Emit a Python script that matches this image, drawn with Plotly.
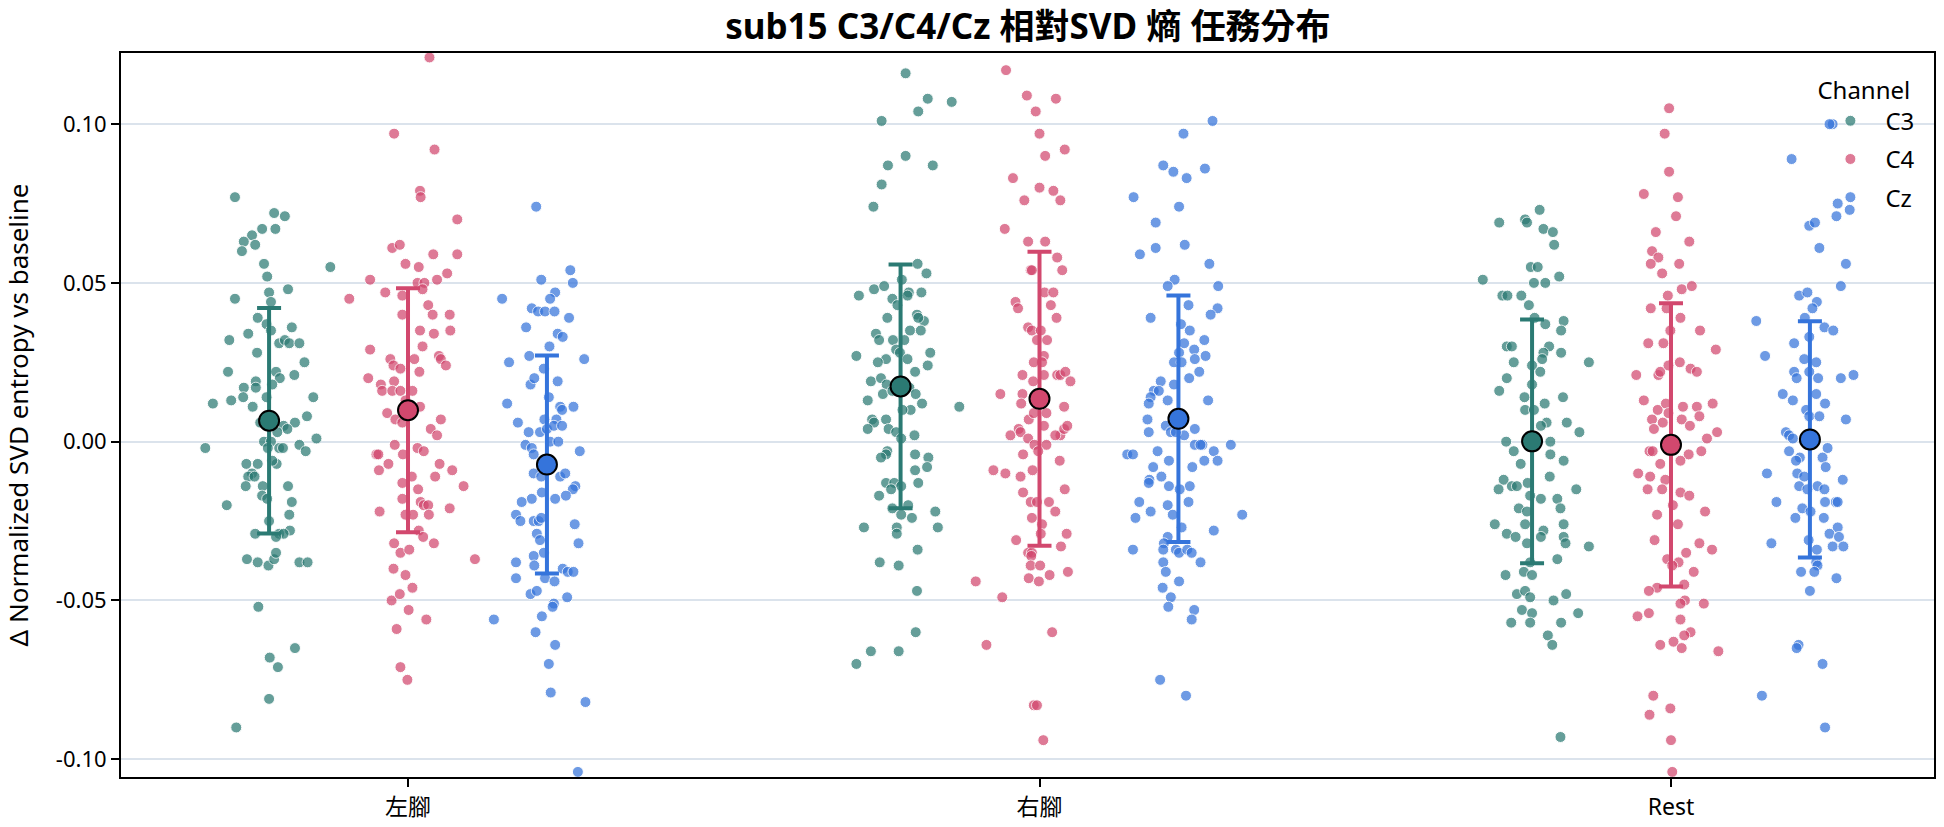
import plotly.graph_objects as go

categories = ["左腳", "右腳", "Rest"]
channels = ["C3", "C4", "Cz"]

# ---- per-trial values (Δ normalized SVD entropy) and horizontal jitter ----
c3_left = [0.077,0.072,0.071,0.067,0.067,0.065,0.063,0.062,0.060,0.056,0.055,0.052,0.045,0.048,0.047,0.044,0.039,0.037,0.035,0.036,0.032,0.034,0.031,0.032,0.031,0.031,0.028,0.025,0.022,0.021,0.022,0.020,0.019,0.017,0.017,0.018,0.012,0.013,0.014,0.011,0.014,0.014,0.006,0.006,0.008,0.005,0.004,0.003,-0.002,0.000,0.000,-0.001,-0.003,0.001,-0.002,-0.002,-0.002,-0.007,-0.006,-0.007,-0.007,-0.010,-0.011,-0.011,-0.014,-0.014,-0.014,-0.020,-0.017,-0.018,-0.019,-0.023,-0.025,-0.029,-0.029,-0.028,-0.029,-0.030,-0.037,-0.038,-0.039,-0.037,-0.035,-0.038,-0.038,-0.052,-0.065,-0.068,-0.071,-0.081,-0.090]
jit_c3_left = [-0.054,0.008,0.025,-0.011,0.010,-0.027,-0.040,-0.022,-0.043,-0.008,0.097,-0.003,-0.054,0.030,0.000,0.003,-0.018,-0.004,0.003,0.036,-0.063,-0.033,0.016,0.025,0.032,0.048,-0.019,0.056,-0.065,0.040,0.011,0.017,-0.021,-0.040,-0.021,0.005,-0.089,-0.060,-0.041,-0.026,-0.004,0.070,-0.014,0.041,0.060,0.023,0.029,0.013,-0.101,-0.008,0.003,0.048,0.058,0.075,-0.002,0.016,0.022,0.012,0.005,-0.036,-0.018,-0.027,-0.033,-0.023,-0.037,-0.010,0.030,-0.067,-0.011,-0.003,0.036,0.032,0.000,-0.022,0.016,0.033,0.023,0.011,-0.035,-0.018,-0.001,0.008,0.011,0.048,0.061,-0.017,0.041,0.001,0.014,0.000,-0.052]

c4_left = [0.121,0.097,0.092,0.079,0.077,0.070,0.061,0.062,0.056,0.055,0.059,0.059,0.051,0.053,0.051,0.050,0.050,0.048,0.045,0.047,0.046,0.043,0.040,0.040,0.040,0.035,0.035,0.034,0.030,0.029,0.027,0.026,0.024,0.026,0.024,0.023,0.026,0.022,0.020,0.018,0.016,0.019,0.016,0.016,0.016,0.013,0.011,0.009,0.007,0.006,0.007,0.004,0.002,-0.001,-0.002,-0.003,-0.004,-0.004,-0.007,-0.004,-0.009,-0.007,-0.011,-0.009,-0.014,-0.011,-0.013,-0.015,-0.018,-0.022,-0.019,-0.020,-0.020,-0.023,-0.021,-0.023,-0.023,-0.028,-0.030,-0.032,-0.032,-0.035,-0.034,-0.037,-0.040,-0.042,-0.046,-0.050,-0.048,-0.053,-0.056,-0.059,-0.071,-0.075]
jit_c4_left = [0.034,-0.022,0.042,0.019,0.020,0.078,-0.025,-0.013,-0.004,0.017,0.040,0.078,-0.060,0.062,0.046,0.015,0.026,0.023,-0.093,-0.036,-0.009,0.032,0.039,-0.009,0.066,0.067,0.019,0.041,0.023,-0.060,0.049,0.052,0.060,-0.028,-0.023,-0.012,0.010,0.018,-0.063,-0.043,-0.041,-0.022,-0.025,-0.012,0.007,-0.004,0.019,-0.033,-0.020,-0.009,0.052,0.036,0.046,-0.021,0.015,0.025,-0.050,-0.047,-0.031,-0.008,-0.046,0.050,0.043,0.070,0.088,0.006,-0.009,0.016,-0.009,-0.045,0.020,0.025,0.032,0.033,0.066,-0.004,0.008,0.017,0.024,0.041,-0.022,-0.012,0.002,0.106,-0.023,-0.004,0.007,-0.026,-0.013,0.001,0.029,-0.018,-0.012,-0.001]

cz_left = [0.074,0.054,0.050,0.051,0.045,0.047,0.045,0.042,0.041,0.041,0.041,0.039,0.036,0.034,0.033,0.030,0.025,0.027,0.026,0.023,0.019,0.018,0.020,0.012,0.014,0.011,0.010,0.011,0.006,0.007,0.007,0.003,0.003,0.004,0.005,0.005,-0.001,-0.002,0.000,0.000,-0.004,-0.003,-0.010,-0.011,-0.011,-0.010,-0.014,-0.015,-0.017,-0.018,-0.019,-0.018,-0.016,-0.023,-0.025,-0.025,-0.025,-0.024,-0.026,-0.029,-0.031,-0.032,-0.035,-0.036,-0.038,-0.040,-0.041,-0.041,-0.043,-0.044,-0.043,-0.039,-0.048,-0.047,-0.049,-0.051,-0.052,-0.056,-0.055,-0.060,-0.064,-0.070,-0.079,-0.082,-0.104]
jit_cz_left = [-0.017,0.037,0.041,-0.009,-0.071,0.013,0.005,-0.024,-0.014,-0.003,0.012,0.035,-0.033,0.017,0.025,0.004,-0.060,-0.028,0.059,-0.005,0.017,-0.026,-0.020,-0.063,0.003,0.021,0.024,0.042,-0.046,0.015,-0.004,-0.029,-0.011,0.000,0.011,0.024,-0.034,-0.024,0.005,0.018,-0.021,0.052,-0.021,-0.009,0.021,0.029,0.045,0.041,0.030,-0.024,-0.040,0.013,-0.008,-0.049,-0.042,-0.021,-0.013,-0.009,0.044,-0.016,-0.011,0.050,-0.005,-0.021,-0.049,0.025,0.033,0.042,-0.003,0.012,-0.049,-0.020,-0.026,-0.016,0.032,0.011,0.009,-0.084,-0.008,-0.018,0.013,0.003,0.006,0.061,0.049]

c3_right = [0.116,0.108,0.107,0.104,0.101,0.090,0.087,0.087,0.081,0.074,0.056,0.053,0.051,0.046,0.048,0.049,0.047,0.047,0.045,0.043,0.046,0.040,0.039,0.038,0.039,0.034,0.032,0.035,0.035,0.032,0.032,0.029,0.028,0.027,0.028,0.026,0.025,0.026,0.024,0.022,0.019,0.020,0.018,0.015,0.016,0.017,0.015,0.013,0.012,0.010,0.010,0.007,0.006,0.007,0.004,0.004,0.003,0.011,0.001,0.002,-0.003,-0.004,-0.005,-0.004,-0.005,-0.008,-0.009,-0.013,-0.013,-0.013,-0.014,-0.017,-0.015,-0.020,-0.021,-0.022,-0.023,-0.024,-0.027,-0.027,-0.027,-0.029,-0.034,-0.038,-0.039,-0.047,-0.060,-0.066,-0.066,-0.070]
jit_c3_right = [0.008,0.043,0.081,0.028,-0.030,0.008,-0.020,0.051,-0.030,-0.043,0.027,0.041,0.002,-0.066,-0.042,-0.026,0.013,0.033,-0.013,-0.005,0.011,0.026,-0.021,0.037,0.028,-0.039,-0.034,0.015,0.032,-0.012,0.006,-0.007,-0.001,-0.070,0.047,-0.023,-0.036,0.011,0.043,0.023,-0.047,-0.031,-0.022,-0.028,-0.013,0.014,0.024,-0.052,0.034,0.016,0.003,-0.045,-0.042,-0.023,-0.052,-0.019,-0.007,0.093,0.001,0.022,-0.021,-0.023,-0.031,0.023,0.044,0.042,0.023,0.028,-0.023,-0.010,0.001,-0.034,-0.015,0.012,-0.013,0.055,0.001,0.018,-0.058,-0.006,0.059,-0.006,0.027,-0.033,-0.003,0.026,0.024,-0.047,-0.003,-0.070]

c4_right = [0.117,0.109,0.108,0.104,0.097,0.092,0.090,0.083,0.080,0.079,0.076,0.076,0.067,0.063,0.063,0.058,0.054,0.054,0.054,0.047,0.047,0.043,0.044,0.042,0.039,0.036,0.035,0.035,0.032,0.032,0.027,0.025,0.025,0.021,0.021,0.021,0.021,0.022,0.019,0.019,0.015,0.015,0.012,0.011,0.009,0.007,0.009,0.005,0.004,0.002,0.003,0.001,0.002,0.004,0.005,0.002,-0.001,-0.001,-0.003,-0.004,-0.006,-0.009,-0.009,-0.010,-0.011,-0.015,-0.016,-0.019,-0.019,-0.019,-0.022,-0.024,-0.026,-0.029,-0.029,-0.031,-0.033,-0.035,-0.035,-0.036,-0.039,-0.039,-0.042,-0.041,-0.043,-0.044,-0.044,-0.049,-0.060,-0.064,-0.083,-0.083,-0.094]
jit_c4_right = [-0.053,-0.020,0.026,-0.006,0.000,0.040,0.009,-0.042,0.000,0.022,-0.024,0.033,-0.055,-0.018,0.009,0.028,0.036,-0.014,-0.012,0.008,0.022,0.018,-0.038,-0.034,0.027,-0.018,-0.012,0.002,-0.004,0.012,0.007,0.004,-0.009,-0.027,0.007,0.028,0.033,0.041,0.049,-0.010,-0.062,-0.027,-0.029,0.039,0.011,-0.017,-0.009,0.007,-0.033,-0.046,-0.030,-0.018,0.033,0.039,0.044,0.025,-0.008,0.011,-0.002,-0.026,0.032,-0.073,-0.011,-0.054,-0.030,0.040,-0.026,-0.014,-0.004,0.015,0.025,-0.012,0.004,0.002,0.043,-0.037,0.034,-0.018,-0.012,-0.013,-0.014,0.001,0.016,0.045,-0.017,-0.001,-0.101,-0.059,0.020,-0.084,-0.009,-0.004,0.006]

cz_right = [0.101,0.097,0.087,0.085,0.086,0.083,0.077,0.074,0.069,0.062,0.059,0.061,0.056,0.051,0.049,0.049,0.043,0.039,0.042,0.040,0.037,0.035,0.032,0.031,0.028,0.029,0.026,0.027,0.025,0.025,0.022,0.020,0.019,0.018,0.016,0.016,0.014,0.012,0.013,0.013,0.007,0.005,0.003,0.004,0.003,0.002,0.003,-0.004,-0.004,-0.003,-0.001,-0.001,-0.001,-0.001,-0.003,-0.006,-0.006,-0.006,-0.008,-0.008,-0.012,-0.013,-0.011,-0.014,-0.014,-0.015,-0.019,-0.019,-0.020,-0.022,-0.024,-0.023,-0.023,-0.028,-0.027,-0.030,-0.032,-0.034,-0.034,-0.034,-0.035,-0.034,-0.035,-0.038,-0.038,-0.041,-0.044,-0.046,-0.049,-0.052,-0.053,-0.056,-0.075,-0.080]
jit_cz_right = [0.054,0.008,-0.024,-0.008,0.042,0.013,-0.071,0.001,-0.036,0.010,-0.061,-0.036,0.049,-0.006,-0.017,0.063,0.016,-0.044,0.062,0.051,0.004,0.018,0.041,0.009,0.001,0.025,0.026,0.043,-0.007,0.005,0.033,0.017,-0.028,-0.007,-0.039,-0.031,-0.044,-0.047,-0.017,0.047,-0.049,-0.020,-0.047,0.026,-0.012,0.009,-0.004,-0.081,-0.072,-0.033,0.026,0.038,0.035,0.083,0.056,0.062,0.041,-0.015,0.022,-0.040,-0.046,-0.047,-0.027,-0.015,0.018,0.002,-0.062,0.016,-0.017,-0.044,-0.068,-0.009,0.101,0.056,0.005,-0.017,-0.023,-0.024,-0.072,-0.004,0.001,0.014,0.021,0.035,-0.024,-0.020,0.001,-0.025,-0.012,-0.016,0.025,0.021,-0.029,0.012]

c3_rest = [0.073,0.069,0.070,0.069,0.067,0.066,0.062,0.055,0.055,0.051,0.050,0.050,0.052,0.046,0.046,0.046,0.043,0.039,0.037,0.038,0.035,0.030,0.030,0.030,0.028,0.028,0.025,0.026,0.024,0.022,0.025,0.020,0.016,0.018,0.014,0.014,0.010,0.010,0.012,0.006,0.005,0.006,0.003,0.000,-0.003,0.000,-0.004,-0.006,-0.007,-0.012,-0.011,-0.015,-0.014,-0.014,-0.013,-0.017,-0.018,-0.018,-0.015,-0.021,-0.021,-0.022,-0.026,-0.026,-0.026,-0.029,-0.030,-0.028,-0.030,-0.030,-0.032,-0.033,-0.032,-0.037,-0.038,-0.042,-0.041,-0.042,-0.048,-0.047,-0.049,-0.050,-0.048,-0.053,-0.054,-0.057,-0.054,-0.057,-0.057,-0.061,-0.064,-0.093]
jit_c3_rest = [0.012,-0.052,-0.011,-0.008,0.018,0.033,0.035,-0.002,0.009,-0.078,0.003,0.021,0.043,-0.047,-0.039,-0.017,-0.005,0.004,0.021,0.050,0.046,-0.040,-0.032,0.027,0.018,0.046,-0.029,0.016,0.000,0.013,0.090,-0.040,-0.052,0.000,-0.012,0.049,-0.011,0.003,0.020,0.023,0.014,0.055,0.075,-0.041,-0.029,0.029,0.029,0.050,-0.018,-0.045,0.028,-0.053,-0.032,-0.024,-0.007,-0.003,0.014,0.040,0.070,0.045,-0.021,-0.008,0.050,-0.059,-0.011,-0.040,-0.026,0.018,0.014,0.050,0.053,0.090,-0.008,0.040,-0.003,-0.042,-0.013,0.000,-0.024,-0.011,-0.003,0.034,0.054,-0.016,0.000,-0.003,0.073,-0.033,0.046,0.025,0.032,0.045]

c4_rest = [0.105,0.097,0.085,0.078,0.077,0.071,0.066,0.063,0.060,0.058,0.056,0.053,0.056,0.048,0.049,0.046,0.042,0.042,0.039,0.035,0.035,0.029,0.031,0.031,0.021,0.021,0.022,0.024,0.025,0.023,0.022,0.013,0.010,0.012,0.009,0.011,0.011,0.008,0.012,0.003,0.001,0.007,0.005,0.007,0.004,0.006,-0.003,-0.003,-0.003,-0.004,-0.006,-0.007,-0.010,-0.011,-0.012,-0.015,-0.015,-0.016,-0.017,-0.020,-0.022,-0.023,-0.026,-0.031,-0.032,-0.034,-0.035,-0.038,-0.037,-0.039,-0.041,-0.046,-0.047,-0.045,-0.050,-0.051,-0.051,-0.055,-0.054,-0.056,-0.060,-0.061,-0.063,-0.064,-0.065,-0.066,-0.080,-0.086,-0.084,-0.094,-0.104]
jit_c4_rest = [-0.003,-0.010,-0.003,-0.043,0.011,0.008,-0.024,0.029,-0.030,-0.020,-0.032,-0.014,0.013,0.017,0.033,-0.005,-0.032,-0.007,0.015,-0.001,0.046,0.071,-0.036,-0.012,-0.055,-0.020,-0.017,-0.004,0.014,0.031,0.041,-0.043,-0.021,-0.008,-0.004,0.019,0.041,0.045,0.066,0.073,0.057,0.017,0.030,-0.030,-0.027,-0.013,-0.034,-0.029,0.048,0.028,0.015,-0.017,-0.052,-0.033,-0.009,-0.014,-0.037,0.015,0.029,0.003,0.054,-0.022,0.011,-0.026,0.045,0.065,0.024,0.012,-0.006,0.002,0.036,-0.022,-0.035,0.021,0.022,0.015,0.052,-0.053,-0.035,0.015,0.031,0.021,0.004,-0.017,0.017,0.075,-0.028,-0.034,-0.001,0.000,0.002]

cz_rest = [0.100,0.100,0.089,0.075,0.073,0.071,0.068,0.069,0.061,0.056,0.049,0.046,0.047,0.044,0.042,0.039,0.038,0.036,0.035,0.033,0.031,0.027,0.026,0.025,0.022,0.020,0.022,0.020,0.020,0.021,0.015,0.013,0.015,0.012,0.010,0.008,0.008,0.007,0.003,0.002,0.001,-0.002,-0.003,-0.005,-0.006,-0.005,-0.008,-0.010,-0.010,-0.011,-0.012,-0.014,-0.014,-0.015,-0.015,-0.019,-0.019,-0.019,-0.019,-0.021,-0.022,-0.024,-0.024,-0.027,-0.029,-0.030,-0.033,-0.033,-0.032,-0.031,-0.034,-0.038,-0.039,-0.041,-0.041,-0.043,-0.047,-0.064,-0.065,-0.070,-0.080,-0.090]
jit_cz_rest = [0.036,0.031,-0.029,0.044,0.063,0.042,-0.001,0.008,0.015,0.057,0.049,-0.017,-0.004,0.011,0.004,-0.008,-0.085,0.023,0.037,-0.001,-0.025,-0.071,-0.009,0.010,-0.025,-0.021,-0.001,0.013,0.049,0.069,-0.043,-0.027,0.010,0.024,-0.006,-0.001,0.015,0.057,-0.038,-0.033,-0.027,0.028,-0.033,-0.016,-0.022,0.020,0.025,-0.068,-0.020,-0.009,0.052,-0.017,0.012,0.023,-0.004,-0.053,0.024,0.041,0.044,-0.012,0.001,-0.023,0.022,0.044,0.031,0.046,0.036,0.053,-0.061,-0.002,0.011,0.010,0.012,-0.014,0.007,0.042,0.000,-0.018,-0.021,0.020,-0.076,0.024]

# ---- summary: mean and SD per channel, in category order ----
mean_c3 = [0.0066, 0.0174, 0.0001]
mean_c4 = [0.0099, 0.0135, -0.0010]
mean_cz = [-0.0072, 0.0072, 0.0007]
sd_c3 = [0.0355, 0.0384, 0.0384]
sd_c4 = [0.0384, 0.0463, 0.0446]
sd_cz = [0.0343, 0.0388, 0.0372]

values = {
    "C3": [c3_left, c3_right, c3_rest],
    "C4": [c4_left, c4_right, c4_rest],
    "Cz": [cz_left, cz_right, cz_rest],
}
jitters = {
    "C3": [jit_c3_left, jit_c3_right, jit_c3_rest],
    "C4": [jit_c4_left, jit_c4_right, jit_c4_rest],
    "Cz": [jit_cz_left, jit_cz_right, jit_cz_rest],
}
means = {"C3": mean_c3, "C4": mean_c4, "Cz": mean_cz}
sds = {"C3": sd_c3, "C4": sd_c4, "Cz": sd_cz}

colors = {"C3": "#2b7a73", "C4": "#d2486e", "Cz": "#3574db"}
dodge = {"C3": -0.22, "C4": 0.0, "Cz": 0.22}

FONT = "'Noto Sans', 'Noto Sans CJK TC', sans-serif"

fig = go.Figure()

for ch in channels:
    xs, ys = [], []
    for ci, cat in enumerate(categories):
        vals = values[ch][ci]
        jit = jitters[ch][ci]
        n = min(len(vals), len(jit))
        for k in range(n):
            xs.append(ci + dodge[ch] + jit[k])
            ys.append(vals[k])
    fig.add_trace(go.Scatter(
        x=xs, y=ys, mode="markers", name=ch, legendgroup=ch,
        marker=dict(size=11, color=colors[ch], opacity=0.72,
                    line=dict(color="white", width=1)),
        hoverinfo="skip",
    ))

for ch in channels:
    fig.add_trace(go.Scatter(
        x=[ci + dodge[ch] for ci in range(len(categories))],
        y=means[ch], mode="markers", showlegend=False,
        marker=dict(size=20, color=colors[ch], line=dict(color="black", width=2)),
        error_y=dict(type="data", array=sds[ch], color=colors[ch],
                     thickness=4, width=12),
    ))

yticks = [-0.10, -0.05, 0.0, 0.05, 0.10]
fig.update_layout(
    width=1944, height=827,
    margin=dict(l=121, r=10, t=53, b=50),
    paper_bgcolor="white", plot_bgcolor="white",
    font=dict(family=FONT, size=22, color="black"),
    title=dict(text="<b>sub15 C3/C4/Cz 相對SVD 熵 任務分布</b>",
               x=0.5287, xanchor="center", yref="container", y=1 - 27 / 827,
               yanchor="middle", font=dict(size=35, family=FONT)),
    legend=dict(x=0.9925, xanchor="right", y=0.98, yanchor="top",
                bgcolor="rgba(0,0,0,0)", tracegroupgap=4, itemwidth=60,
                title=dict(text="Channel", font=dict(size=24)),
                font=dict(size=24)),
    xaxis=dict(range=[-0.4545, 2.4165], tickvals=[0, 1, 2], ticktext=categories,
               showgrid=False, zeroline=False, showline=True, linecolor="black",
               linewidth=2, mirror=True, ticks="outside", ticklen=8, tickwidth=2,
               tickcolor="black", tickfont=dict(size=23), automargin=False),
    yaxis=dict(range=[-0.1056, 0.1224], tickvals=yticks,
               ticktext=["-0.10", "-0.05", "0.00", "0.05", "0.10"],
               showgrid=True, gridcolor="#dbe3ec", gridwidth=1.5,
               zeroline=False, showline=True, linecolor="black", linewidth=2,
               mirror=True, ticks="outside", ticklen=8, tickwidth=2,
               tickcolor="black", tickfont=dict(size=22), automargin=False,
               title=dict(text="Δ Normalized SVD entropy vs baseline",
                          font=dict(size=26), standoff=24)),
)

fig.write_html("out.html")
